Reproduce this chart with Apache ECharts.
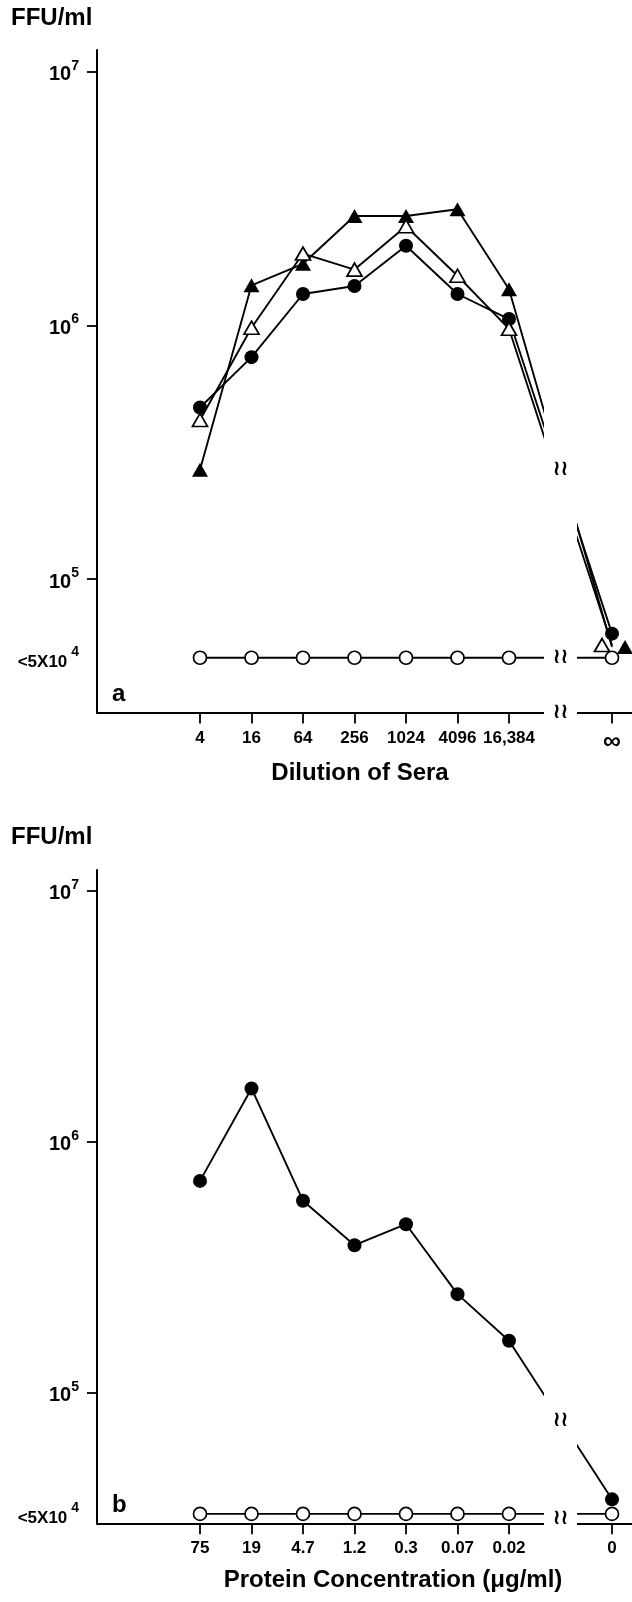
<!DOCTYPE html>
<html>
<head>
    <meta charset="utf-8">
    <title>FFU/ml</title>
    <script src="https://cdn.jsdelivr.net/npm/echarts@6/dist/echarts.min.js"></script>
    <style>
        html, body { margin: 0; padding: 0; background: #fff; }
        #main { width: 632px; height: 1602px; }
    </style>
</head>
<body>
<div id="main"></div>
<script type="text/javascript">
    // panel a - dilution of sera
    var dilutions = ['4', '16', '64', '256', '1024', '4096', '16,384', '∞'];
    var filledTriangle = [2.7e5, 1.44e6, 1.75e6, 2.7e6, 2.7e6, 2.87e6, 1.39e6, 5.4e4];
    var openTriangle = [4.24e5, 9.8e5, 1.92e6, 1.66e6, 2.46e6, 1.57e6, 9.7e5, 5.5e4];
    var filledCircleA = [4.75e5, 7.5e5, 1.33e6, 1.43e6, 2.06e6, 1.33e6, 1.06e6, 6.1e4];
    var openCircleA = [4.9e4, 4.9e4, 4.9e4, 4.9e4, 4.9e4, 4.9e4, 4.9e4, 4.9e4];

    // panel b - protein concentration
    var proteins = ['75', '19', '4.7', '1.2', '0.3', '0.07', '0.02', '0'];
    var filledCircleB = [6.98e5, 1.63e6, 5.82e5, 3.87e5, 4.69e5, 2.47e5, 1.61e5, 3.76e4];
    var openCircleB = [3.29e4, 3.29e4, 3.29e4, 3.29e4, 3.29e4, 3.29e4, 3.29e4, 3.29e4];

    // y ticks (powers of ten) and the "<5X10^4" level of each panel
    var decades = [5, 6, 7];
    var belowA = 4.9e4;
    var belowB = 3.29e4;

    var FONT = '"Liberation Sans", Arial, sans-serif';
    var BREAK_SLOT = 9;

    // two empty slots before the first point, one at the break, one after the end
    function slots(labels) {
        return ['', ''].concat(labels.slice(0, 7), [''], labels.slice(7), ['']);
    }
    function slotIndex(i) {
        return i < 7 ? i + 2 : 10;
    }

    function makeSeries(values, grid, symbol, size, filled, endOffset) {
        return {
            type: 'line',
            xAxisIndex: grid,
            yAxisIndex: grid,
            symbol: symbol,
            symbolSize: size,
            silent: true,
            animation: false,
            lineStyle: {color: '#000', width: 1.9},
            itemStyle: {
                color: filled ? '#000' : '#fff',
                borderColor: '#000',
                borderWidth: filled ? 0 : 1.7
            },
            data: values.map(function (v, i) {
                var d = {value: [slotIndex(i), Math.log10(v)]};
                if (i === 7 && endOffset) d.symbolOffset = [endOffset, 0];
                return d;
            })
        };
    }

    function yAxis(grid, min, max, below) {
        return {
            type: 'value',
            gridIndex: grid,
            min: min,
            max: max,
            splitLine: {show: false},
            axisLine: {show: true, lineStyle: {color: '#000', width: 2}},
            axisTick: {show: true, inside: false, length: 10, customValues: decades,
                lineStyle: {color: '#000', width: 1.8}},
            axisLabel: {
                margin: 18,
                fontFamily: FONT, fontWeight: 'bold', fontSize: 18, color: '#000',
                customValues: [Math.log10(below)].concat(decades),
                formatter: function (v) {
                    if (Math.abs(v - Math.round(v)) < 1e-6) {
                        return '{b|10}{s|' + Math.round(v) + '}';
                    }
                    return '{l|<5X10}{s| 4}';
                },
                rich: {
                    b: {fontFamily: FONT, fontWeight: 'bold', fontSize: 20, color: '#000',
                        lineHeight: 26, verticalAlign: 'bottom'},
                    l: {fontFamily: FONT, fontWeight: 'bold', fontSize: 17, color: '#000',
                        lineHeight: 26, verticalAlign: 'bottom'},
                    s: {fontFamily: FONT, fontWeight: 'bold', fontSize: 14, color: '#000',
                        lineHeight: 26, verticalAlign: 'top'}
                }
            }
        };
    }

    function xAxis(grid, labels) {
        return {
            type: 'category',
            gridIndex: grid,
            boundaryGap: false,
            data: slots(labels),
            axisLine: {show: true, lineStyle: {color: '#000', width: 2}},
            axisTick: {
                show: true, inside: false, length: 11,
                interval: function (index, value) { return value !== ''; },
                lineStyle: {color: '#000', width: 1.8}
            },
            axisLabel: {
                interval: 0, margin: 17,
                fontFamily: FONT, fontWeight: 'bold', fontSize: 17, color: '#000',
                formatter: function (v) {
                    return v === '∞' ? '{inf|∞}' : v;
                },
                rich: {
                    inf: {fontFamily: FONT, fontWeight: 'bold', fontSize: 25, color: '#000'}
                }
            },
            splitLine: {show: false}
        };
    }

    var myChart = echarts.init(document.getElementById('main'));
    myChart.setOption({
        animation: false,
        grid: [
            {left: 97, top: 50, right: -31.5, height: 662.5, outerBoundsMode: 'none', containLabel: false},
            {left: 97, top: 870, right: -31.5, height: 653.3, outerBoundsMode: 'none', containLabel: false}
        ],
        xAxis: [xAxis(0, dilutions), xAxis(1, proteins)],
        yAxis: [yAxis(0, 4.4745, 7.0856, belowA), yAxis(1, 4.4797, 7.0825, belowB)],
        series: [
            makeSeries(filledCircleA, 0, 'circle', 14, true, 0),
            makeSeries(filledTriangle, 0, 'triangle', [16, 14], true, 13),
            makeSeries(openTriangle, 0, 'triangle', [15, 13], false, -10),
            makeSeries(openCircleA, 0, 'circle', 13, false, 0),
            makeSeries(filledCircleB, 1, 'circle', 14, true, 0),
            makeSeries(openCircleB, 1, 'circle', 13, false, 0)
        ]
    });

    // axis breaks: white band across the lines, with the wavy marks on top
    function px(grid, slot, v) {
        return myChart.convertToPixel({gridIndex: grid}, [slot, Math.log10(v)]);
    }
    function textEl(text, x, y, size, align, font) {
        return {
            type: 'text', x: x, y: y, z: 101,
            style: {
                text: text, fill: '#000',
                font: 'bold ' + size + 'px ' + (font || FONT),
                align: align, verticalAlign: 'middle',
                textAlign: align, textVerticalAlign: 'middle'
            }
        };
    }
    function breakMark(x, y) {
        return textEl('≀≀', x, y, 21, 'center', '"DejaVu Sans"');
    }
    function band(grid, topV, bottomV) {
        var a = px(grid, BREAK_SLOT, topV);
        var b = px(grid, BREAK_SLOT, bottomV);
        return {
            type: 'rect', z: 100,
            shape: {x: a[0] - 16.5, y: a[1], width: 33, height: b[1] - a[1] + 3},
            style: {fill: '#fff'}
        };
    }
    function midY(grid, series) {
        var sum = 0;
        series.forEach(function (s) {
            sum += (px(grid, 8, s[6])[1] + px(grid, 10, s[7])[1]) / 2;
        });
        return sum / series.length;
    }

    var xa = px(0, BREAK_SLOT, belowA)[0];
    var axisA = px(0, BREAK_SLOT, Math.pow(10, 4.4745))[1];
    var xb = px(1, BREAK_SLOT, belowB)[0];
    var axisB = px(1, BREAK_SLOT, Math.pow(10, 4.4797))[1];

    myChart.setOption({
        graphic: [
            band(0, Math.pow(10, 7.0856), Math.pow(10, 4.4745)),
            band(1, Math.pow(10, 7.0825), Math.pow(10, 4.4797)),
            breakMark(xa, midY(0, [filledTriangle, openTriangle, filledCircleA]) - 8),
            breakMark(xa, px(0, BREAK_SLOT, belowA)[1]),
            breakMark(xa, axisA),
            breakMark(xb, midY(1, [filledCircleB])),
            breakMark(xb, (px(1, BREAK_SLOT, belowB)[1] + axisB) / 2),
            textEl('FFU/ml', 11, 18, 24, 'left'),
            textEl('FFU/ml', 11, 837, 24, 'left'),
            textEl('a', 112, 694, 24, 'left'),
            textEl('b', 112, 1505, 24, 'left'),
            textEl('Dilution of Sera', 360, 773, 24, 'center'),
            textEl('Protein Concentration (μg/ml)', 393, 1580, 24, 'center')
        ]
    });
</script>
</body>
</html>
